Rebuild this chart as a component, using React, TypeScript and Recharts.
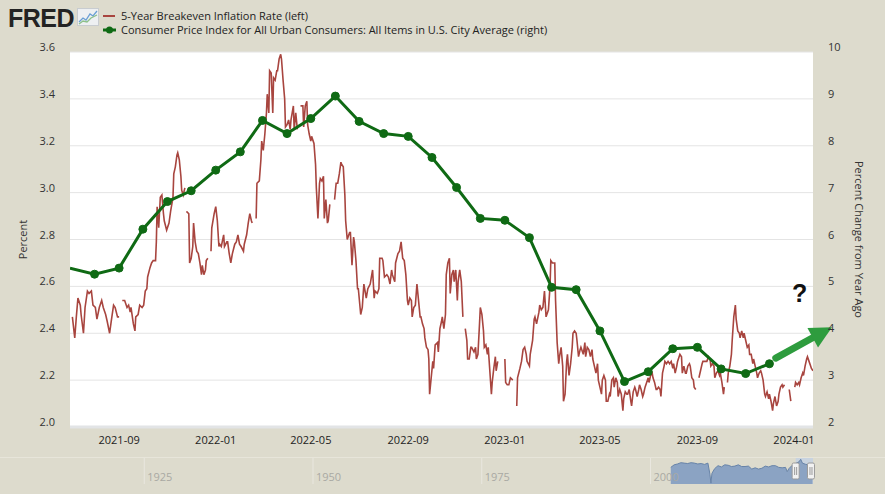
import {
  ComposedChart,
  AreaChart,
  Area,
  Line,
  XAxis,
  YAxis,
  CartesianGrid,
  ReferenceLine,
  ReferenceDot,
  ReferenceArea,
} from "recharts";

const DAY_MS = 86400000;
const START = Date.UTC(2021, 6, 1);
const END_DAY = 938;

const xTickMonths = ["2021-09", "2022-01", "2022-05", "2022-09", "2023-01", "2023-05", "2023-09", "2024-01"];
const leftTicks = [2.0, 2.2, 2.4, 2.6, 2.8, 3.0, 3.2, 3.4, 3.6];
const rightTicks = [2, 3, 4, 5, 6, 7, 8, 9, 10];

// CPI, percent change from year ago (monthly)
const cpiMonths = [
  "2021-07", "2021-08", "2021-09", "2021-10", "2021-11", "2021-12",
  "2022-01", "2022-02", "2022-03", "2022-04", "2022-05", "2022-06",
  "2022-07", "2022-08", "2022-09", "2022-10", "2022-11", "2022-12",
  "2023-01", "2023-02", "2023-03", "2023-04", "2023-05", "2023-06",
  "2023-07", "2023-08", "2023-09", "2023-10", "2023-11", "2023-12",
];
const cpiYoY = [
  5.39, 5.26, 5.39, 6.22, 6.81, 7.04,
  7.48, 7.87, 8.54, 8.26, 8.58, 9.06,
  8.52, 8.26, 8.2, 7.75, 7.11, 6.45,
  6.41, 6.04, 4.98, 4.93, 4.05, 2.97,
  3.18, 3.67, 3.7, 3.24, 3.14, 3.35,
];

// 5-year breakeven: [days since 2021-07-01, percent]; null = missing day
const breakevenObs: [number, number | null][] = [
  [3, 2.47], [6, 2.38], [8, 2.47], [10, 2.55], [13, 2.52], [14, 2.48], [17, 2.4], [19, 2.51], [22, 2.58], [24, 2.57],
  [27, 2.58], [29, 2.52], [32, 2.51], [34, 2.46], [37, 2.51], [40, 2.54], [42, 2.51], [45, 2.48], [47, 2.45], [50, 2.4],
  [52, 2.45], [55, 2.52], [57, 2.51], [60, 2.47], [62, 2.47], [64, null], [66, 2.54], [69, 2.54], [72, 2.51], [74, 2.52],
  [76, 2.49], [77, 2.51], [80, 2.44], [82, 2.41], [83, 2.47], [86, 2.48], [88, 2.52], [91, 2.51], [93, 2.52], [95, 2.58],
  [97, 2.59], [98, 2.64], [101, 2.68], [103, 2.7], [105, 2.71], [108, 2.71], [109, 2.79], [110, 2.94], [112, 2.85], [114, 2.98],
  [116, 2.99], [118, 2.91], [119, 2.88], [122, 2.84], [125, 2.87], [127, 2.92], [130, 2.98], [131, 3.08], [133, 3.11], [135, 3.16],
  [136, 3.17], [138, 3.14], [140, 3.07], [141, 3.01], [143, 2.99], [145, 3.02], [146, null], [147, 2.92], [150, 2.91], [151, 2.7],
  [153, 2.72], [155, 2.77], [156, 2.87], [158, 2.79], [160, 2.75], [162, 2.74], [164, 2.7], [166, 2.65], [167, 2.69], [169, 2.65],
  [171, 2.67], [172, 2.71], [174, 2.72], [176, null], [178, 2.75], [179, 2.85], [182, 2.91], [184, 2.94], [186, 2.88], [188, 2.77],
  [189, 2.78], [191, 2.77], [194, 2.82], [195, 2.77], [198, 2.79], [199, 2.79], [201, 2.74], [203, 2.7], [205, 2.74], [208, 2.78],
  [210, 2.79], [212, 2.82], [214, 2.78], [216, 2.77], [219, 2.75], [220, 2.78], [223, 2.82], [225, 2.87], [227, 2.91], [229, 2.88],
  [230, 2.87], [232, null], [235, 2.89], [236, 3.04], [239, 3.05], [241, 3.14], [242, 3.22], [244, 3.18], [246, 3.25], [248, 3.34],
  [249, 3.42], [251, 3.34], [252, 3.52], [254, 3.51], [256, 3.34], [257, 3.49], [259, 3.48], [261, 3.52], [262, 3.52], [264, 3.57],
  [266, 3.59], [267, 3.57], [269, 3.48], [271, 3.4], [272, 3.28], [274, 3.29], [276, 3.31], [278, 3.27], [279, 3.31], [282, 3.37],
  [283, 3.27], [285, 3.34], [287, 3.27], [289, null], [291, 3.37], [294, 3.37], [295, 3.28], [297, 3.37], [299, 3.39], [300, 3.29],
  [302, 3.25], [304, 3.22], [305, 3.24], [308, 3.21], [310, 3.12], [311, 3.02], [313, 2.89], [315, 3.04], [316, 3.06], [318, 3.05],
  [320, 3.07], [321, 2.89], [323, 2.97], [325, 2.87], [326, 2.88], [328, 2.95], [331, null], [334, 2.97], [336, 3.04], [338, 3.04],
  [340, 3.08], [342, 3.13], [343, 3.12], [345, 3.11], [347, 2.99], [348, 2.88], [350, 2.8], [353, 2.83], [354, 2.83], [356, 2.69],
  [358, 2.81], [359, 2.79], [361, 2.71], [363, 2.59], [364, 2.59], [367, 2.48], [369, 2.51], [371, 2.61], [374, 2.55], [376, 2.59],
  [379, 2.61], [382, 2.67], [384, 2.55], [385, 2.58], [388, 2.57], [390, 2.59], [391, 2.72], [394, 2.72], [395, 2.71], [397, 2.64],
  [400, 2.65], [402, 2.64], [404, 2.61], [406, 2.67], [407, 2.65], [410, 2.62], [411, 2.7], [414, 2.74], [416, 2.75], [418, 2.79],
  [420, 2.72], [422, 2.71], [424, 2.65], [426, 2.54], [427, 2.52], [429, 2.55], [431, 2.54], [432, 2.47], [434, 2.51], [436, 2.52],
  [438, 2.61], [440, 2.54], [442, 2.47], [443, 2.47], [445, 2.44], [447, 2.42], [448, 2.38], [450, 2.34], [452, 2.33], [453, 2.29],
  [454, 2.14], [456, 2.21], [458, 2.28], [459, 2.25], [461, 2.35], [464, 2.36], [465, 2.32], [467, 2.42], [469, 2.45], [470, 2.47],
  [472, 2.42], [474, 2.48], [475, 2.65], [477, 2.7], [479, 2.72], [480, 2.57], [482, 2.65], [484, 2.67], [485, 2.62], [487, 2.67],
  [489, 2.54], [490, 2.62], [492, 2.67], [494, 2.62], [496, 2.47], [497, null], [499, 2.42], [501, 2.37], [502, 2.29], [504, 2.29],
  [506, 2.34], [507, 2.34], [510, 2.32], [512, 2.34], [513, 2.29], [515, 2.31], [517, 2.44], [518, 2.51], [520, 2.48], [522, 2.41],
  [523, 2.34], [525, 2.35], [527, 2.31], [528, 2.34], [530, 2.24], [532, 2.14], [533, 2.19], [535, 2.25], [537, 2.3], [538, 2.24],
  [540, 2.28], [542, null], [549, 2.29], [550, 2.19], [552, 2.18], [554, 2.18], [556, 2.21], [559, 2.2], [561, null], [564, 2.09],
  [565, 2.21], [568, 2.25], [570, 2.28], [572, 2.33], [574, 2.34], [576, 2.31], [577, 2.28], [580, 2.26], [581, 2.31], [584, 2.37],
  [586, 2.46], [587, 2.47], [589, 2.44], [592, 2.49], [593, 2.52], [595, 2.5], [597, 2.51], [599, 2.58], [601, 2.47], [602, 2.48],
  [604, 2.5], [606, 2.6], [607, 2.71], [609, 2.7], [612, 2.7], [613, 2.54], [615, 2.36], [617, 2.27], [618, 2.3], [620, 2.34],
  [622, 2.26], [623, 2.11], [625, 2.14], [627, 2.28], [628, 2.31], [630, 2.22], [632, 2.27], [634, 2.34], [635, 2.4], [637, 2.41],
  [639, 2.4], [640, 2.37], [642, 2.3], [644, 2.33], [645, 2.34], [648, 2.31], [650, 2.36], [651, 2.3], [653, 2.34], [655, 2.33],
  [657, 2.3], [659, 2.33], [660, 2.29], [662, 2.26], [664, 2.23], [666, 2.27], [667, 2.2], [669, 2.17], [671, 2.14], [672, 2.2],
  [674, 2.22], [676, 2.2], [677, 2.11], [679, 2.11], [681, 2.14], [682, 2.13], [684, 2.2], [686, 2.21], [687, 2.17], [689, 2.21],
  [691, 2.19], [692, 2.13], [694, 2.16], [696, 2.14], [698, 2.07], [699, 2.12], [701, 2.15], [703, 2.14], [704, 2.14], [706, 2.16],
  [708, 2.11], [709, 2.09], [711, 2.15], [713, 2.17], [714, 2.16], [716, 2.13], [718, 2.16], [719, 2.18], [721, 2.16], [723, 2.13],
  [724, 2.14], [726, 2.17], [728, 2.19], [730, 2.21], [731, 2.19], [733, 2.22], [735, 2.23], [736, 2.21], [738, 2.19], [740, 2.16],
  [741, 2.16], [743, 2.17], [745, 2.16], [746, 2.13], [748, 2.23], [750, 2.26], [751, 2.28], [753, 2.27], [755, 2.28], [757, 2.27],
  [759, 2.28], [761, 2.25], [762, 2.27], [764, 2.23], [766, 2.26], [767, 2.28], [770, 2.31], [772, 2.3], [773, 2.23], [775, 2.26],
  [777, 2.23], [778, 2.23], [780, 2.26], [782, 2.27], [783, 2.26], [785, 2.21], [787, 2.2], [788, 2.17], [790, 2.16], [792, null],
  [794, 2.21], [796, 2.24], [798, 2.27], [799, 2.28], [801, 2.28], [803, 2.28], [804, 2.28], [806, 2.3], [808, 2.29], [809, 2.26],
  [811, 2.27], [813, 2.26], [814, 2.21], [816, 2.23], [818, 2.24], [820, 2.22], [821, 2.23], [823, 2.19], [825, 2.14], [826, 2.17],
  [828, null], [830, 2.19], [831, 2.23], [833, 2.26], [835, 2.31], [836, 2.37], [838, 2.47], [840, 2.52], [841, 2.46], [843, 2.41],
  [845, 2.4], [846, 2.38], [848, 2.41], [850, 2.38], [851, 2.4], [853, 2.37], [855, 2.34], [857, 2.35], [858, 2.31], [860, 2.31],
  [862, 2.27], [863, 2.29], [865, 2.26], [867, 2.23], [868, 2.21], [870, 2.23], [872, 2.24], [873, 2.23], [875, 2.2], [877, 2.14],
  [878, 2.13], [880, 2.15], [882, 2.12], [883, 2.14], [885, 2.11], [887, 2.07], [888, 2.1], [890, 2.13], [892, 2.09], [894, 2.11],
  [895, 2.14], [897, 2.17], [899, 2.18], [900, 2.17], [902, 2.18], [904, null], [908, 2.16], [910, 2.11], [913, null], [915, 2.17],
  [916, 2.19], [918, 2.18], [920, 2.19], [921, 2.18], [923, 2.21], [925, 2.23], [926, 2.22], [928, 2.26], [930, 2.29], [931, 2.3],
  [933, 2.28], [935, 2.26], [936, 2.25], [938, 2.24],
];

// navigator (full history of the breakeven series)
const navYears = [
  2003.0, 2003.5, 2004.0, 2004.5, 2005.0, 2005.5, 2006.0, 2006.5, 2007.0, 2007.5, 2008.0, 2008.5, 2008.8, 2008.95,
  2009.1, 2009.5, 2010.0, 2010.5, 2011.0, 2011.5, 2012.0, 2012.5, 2013.0, 2013.5, 2014.0, 2014.5, 2015.0, 2015.5,
  2016.0, 2016.5, 2017.0, 2017.5, 2018.0, 2018.5, 2019.0, 2019.5, 2020.0, 2020.25, 2020.5, 2021.0, 2021.5, 2022.0,
  2022.25, 2022.5, 2023.0, 2023.5, 2024.0,
];
const navValues = [
  1.6, 2.2, 2.4, 2.7, 2.6, 2.5, 2.7, 2.6, 2.4, 2.5, 2.3, 2.6, 0.0, -2.1,
  0.2, 1.3, 2.0, 1.7, 2.2, 2.1, 1.8, 1.9, 2.2, 1.8, 1.8, 1.9, 1.2, 1.5,
  1.2, 1.4, 1.9, 1.7, 2.0, 2.0, 1.6, 1.5, 1.6, 0.6, 1.3, 2.1, 2.5, 2.9,
  3.5, 2.6, 2.3, 2.2, 2.2,
];
const navTicks = [1925, 1950, 1975, 2000];
const navRange = [1914, 2024.07];
const navSelection = [2021.5, 2024.07];

const toTime = (ym: string) => {
  const [y, m] = ym.split("-").map(Number);
  return Date.UTC(y, m - 1, 1);
};
const dayToTime = (d: number) => START + d * DAY_MS;

const cpiData = cpiMonths.map((m, i) => ({ t: toTime(m), cpi: cpiYoY[i] }));
const breakevenData = breakevenObs.map(([d, v]) => ({ t: dayToTime(d), bei: v }));
const navData = navYears.map((y, i) => ({ year: y, v: navValues[i] }));
const xTicks = xTickMonths.map(toTime);

const RED = "#a8453f";
const GREEN = "#0f6a14";
const ARROW = "#2e9c3e";
const BG = "#dddbcd";
const FONT = "'Open Sans', 'DejaVu Sans', sans-serif";

const fmtMonth = (t: number) => {
  const d = new Date(t);
  return `${d.getUTCFullYear()}-${String(d.getUTCMonth() + 1).padStart(2, "0")}`;
};

const LeftTick = ({ x, y, payload }: any) => (
  <text x={x - 15} y={y - 1} textAnchor="end" fontSize={11} fontFamily={FONT} fill="#333">
    {Number(payload.value).toFixed(1)}
  </text>
);
const RightTick = ({ x, y, payload }: any) => (
  <text x={x + 15} y={y - 1} textAnchor="start" fontSize={11} fontFamily={FONT} fill="#333">
    {payload.value}
  </text>
);
const BottomTick = ({ x, y, payload }: any) => (
  <text x={x} y={y + 17} textAnchor="middle" fontSize={11} fontFamily={FONT} fill="#222">
    {fmtMonth(payload.value)}
  </text>
);

const cpiDot = (p: any) =>
  p.index === 0 ? (
    <g key={`cpi-dot-${p.index}`} />
  ) : (
    <circle key={`cpi-dot-${p.index}`} cx={p.cx} cy={p.cy} r={4} fill={GREEN} stroke={GREEN} />
  );

const arrowShape = (p: any) => {
  const { x1, y1, x2, y2 } = p;
  const dx = x2 - x1;
  const dy = y2 - y1;
  const len = Math.hypot(dx, dy) || 1;
  const ux = dx / len;
  const uy = dy / len;
  const head = 22;
  const half = 11;
  const bx = x2 - ux * head;
  const by = y2 - uy * head;
  return (
    <g>
      <line x1={x1} y1={y1} x2={bx + ux * 2} y2={by + uy * 2} stroke={ARROW} strokeWidth={7} strokeLinecap="round" />
      <polygon
        points={`${x2},${y2} ${bx - uy * half},${by + ux * half} ${bx + uy * half},${by - ux * half}`}
        fill={ARROW}
      />
    </g>
  );
};

const questionShape = (p: any) => (
  <text x={p.cx} y={p.cy + 9} textAnchor="middle" fontSize={25} fontWeight="bold" fontFamily="'Liberation Sans', Arial, sans-serif" fill="#111">
    ?
  </text>
);

const handleShape = (p: any) => {
  const cy = (p.y1 + p.y2) / 2;
  return (
    <g>
      <rect x={p.x1 - 3.5} y={cy - 8} width={7} height={16} rx={1.5} fill="#f2f2f2" stroke="#9a9a9a" />
      <line x1={p.x1 - 1} y1={cy - 4} x2={p.x1 - 1} y2={cy + 4} stroke="#9a9a9a" />
      <line x1={p.x1 + 1} y1={cy - 4} x2={p.x1 + 1} y2={cy + 4} stroke="#9a9a9a" />
    </g>
  );
};

const axisTitle = (text: string, side: "left" | "right") => ({ viewBox }: any) => {
  const cx = side === "left" ? viewBox.x - 8 : viewBox.x + viewBox.width + 6;
  const cy = viewBox.y + viewBox.height / 2;
  return (
    <text
      x={cx}
      y={cy}
      transform={`rotate(${side === "left" ? -90 : 90}, ${cx}, ${cy})`}
      textAnchor="middle"
      dominantBaseline="central"
      fontSize={11}
      fontFamily={FONT}
      fill="#333"
    >
      {text}
    </text>
  );
};

export default function App() {
  return (
    <div
      style={{
        position: "absolute",
        left: 0,
        top: 0,
        width: 885,
        height: 494,
        background: BG,
        fontFamily: FONT,
        overflow: "hidden",
      }}
    >
      {/* logo */}
      <div
        style={{
          position: "absolute",
          left: 8,
          top: 4,
          fontFamily: "'Liberation Sans', Arial, sans-serif",
          fontWeight: 900,
          fontSize: 25,
          letterSpacing: -0.5,
          color: "#232323",
          lineHeight: "28px",
        }}
      >
        FRED
      </div>
      <svg style={{ position: "absolute", left: 77, top: 8 }} width={22} height={18}>
        <rect x={0.5} y={0.5} width={21} height={17} fill="#eef0f2" stroke="#c8ccd0" />
        <polyline points="2,14 6,10 9,12 13,6 16,8 20,3" fill="none" stroke="#6a9fd4" strokeWidth={1.3} />
        <polyline points="2,16 6,13 10,14 14,10 20,7" fill="none" stroke="#8cc08a" strokeWidth={1.3} />
      </svg>

      {/* legend */}
      <div style={{ position: "absolute", left: 103, top: 9, fontSize: 11, color: "#222", lineHeight: "14px" }}>
        <div style={{ display: "flex", alignItems: "center", height: 14 }}>
          <svg width={14} height={10} style={{ marginRight: 4 }}>
            <line x1={0} y1={5} x2={12} y2={5} stroke={RED} strokeWidth={2} />
          </svg>
          5-Year Breakeven Inflation Rate (left)
        </div>
        <div style={{ display: "flex", alignItems: "center", height: 14 }}>
          <svg width={14} height={10} style={{ marginRight: 4 }}>
            <line x1={0} y1={5} x2={13} y2={5} stroke={GREEN} strokeWidth={3} />
            <circle cx={6.5} cy={5} r={3.5} fill={GREEN} />
          </svg>
          Consumer Price Index for All Urban Consumers: All Items in U.S. City Average (right)
        </div>
      </div>

      {/* main chart */}
      <div style={{ position: "absolute", left: 0, top: 0 }}>
        <ComposedChart width={885} height={460} margin={{ top: 52, right: 32, bottom: 3, left: 30 }}>
          <CartesianGrid yAxisId="left" vertical={false} stroke="#e4e4e4" fill="#ffffff" fillOpacity={1} />
          <XAxis
            dataKey="t"
            type="number"
            scale="time"
            domain={[START, dayToTime(END_DAY)]}
            allowDataOverflow
            ticks={xTicks}
            tick={<BottomTick />}
            tickLine={false}
            tickSize={0}
            tickMargin={0}
            axisLine={{ stroke: "#e2e4e6", strokeWidth: 3 }}
            height={30}
            interval={0}
          />
          <YAxis
            yAxisId="left"
            orientation="left"
            domain={[2.0, 3.6]}
            ticks={leftTicks}
            allowDataOverflow
            width={40}
            tick={<LeftTick />}
            tickLine={false}
            tickSize={0}
            tickMargin={0}
            axisLine={false}
            interval={0}
            label={{ content: axisTitle("Percent", "left") }}
          />
          <YAxis
            yAxisId="right"
            orientation="right"
            domain={[2, 10]}
            ticks={rightTicks}
            allowDataOverflow
            width={40}
            tick={<RightTick />}
            tickLine={false}
            tickSize={0}
            tickMargin={0}
            axisLine={false}
            interval={0}
            label={{ content: axisTitle("Percent Change from Year Ago", "right") }}
          />
          <Line
            yAxisId="left"
            data={breakevenData}
            dataKey="bei"
            type="linear"
            stroke={RED}
            strokeWidth={1.6}
            dot={false}
            activeDot={false}
            isAnimationActive={false}
          />
          <Line
            yAxisId="right"
            data={cpiData}
            dataKey="cpi"
            type="linear"
            stroke={GREEN}
            strokeWidth={3}
            dot={cpiDot}
            activeDot={false}
            isAnimationActive={false}
          />
          <ReferenceLine
            yAxisId="right"
            segment={[
              { x: dayToTime(891), y: 3.47 },
              { x: dayToTime(962), y: 4.13 },
            ]}
            ifOverflow="visible"
            shape={arrowShape}
          />
          <ReferenceDot yAxisId="right" x={dayToTime(921)} y={4.86} r={0} ifOverflow="visible" shape={questionShape} />
        </ComposedChart>
      </div>

      {/* navigator */}
      <div style={{ position: "absolute", left: 0, top: 457, borderTop: "1px solid #e7e5da", width: 885 }}>
        <AreaChart width={885} height={26} data={navData} margin={{ top: 0, right: 72, bottom: 0, left: 70 }}>
          <XAxis dataKey="year" type="number" domain={navRange} allowDataOverflow hide />
          <YAxis domain={[-2.3, 3.8]} allowDataOverflow hide />
          {navTicks.map((yr) => (
            <ReferenceLine
              key={yr}
              x={yr}
              stroke="#e9e7df"
              label={{
                value: String(yr),
                position: "insideBottomLeft",
                offset: 3,
                fontSize: 11,
                fill: "#a9a9a3",
                fontFamily: FONT,
              }}
            />
          ))}
          <ReferenceArea x1={navSelection[0]} x2={navSelection[1]} fill="#c3d1e4" fillOpacity={0.8} stroke="none" />
          <Area
            dataKey="v"
            type="linear"
            stroke="#6783a8"
            strokeWidth={1}
            fill="#8ba3c3"
            fillOpacity={1}
            baseValue="dataMin"
            isAnimationActive={false}
          />
          <ReferenceLine x={navSelection[0]} ifOverflow="visible" shape={handleShape} />
          <ReferenceLine x={navSelection[1] - 0.3} ifOverflow="visible" shape={handleShape} />
        </AreaChart>
      </div>
    </div>
  );
}
